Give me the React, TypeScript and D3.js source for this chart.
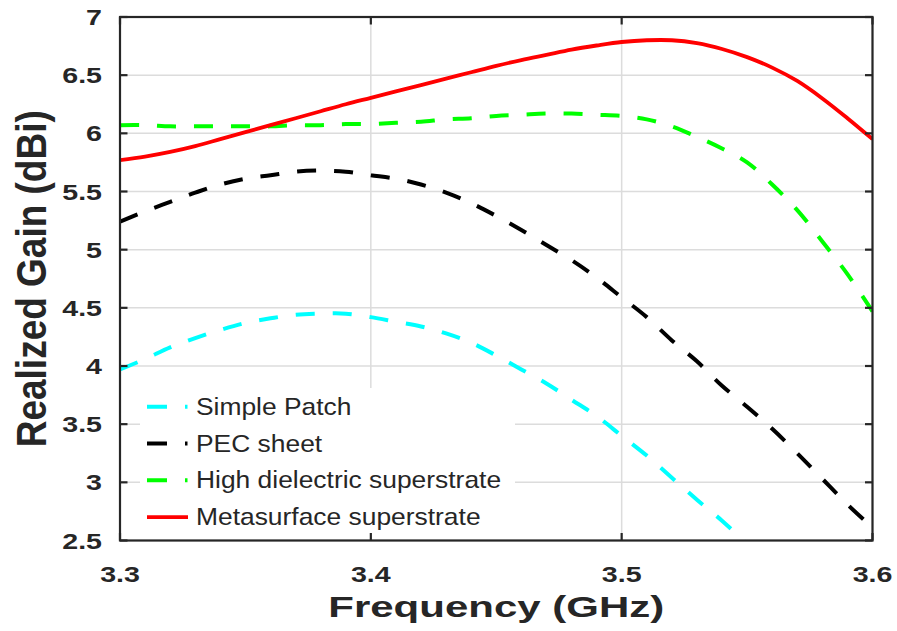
import React from 'react';
import * as d3 from 'd3';

const frequency = [3.30, 3.31, 3.32, 3.33, 3.34, 3.35, 3.36, 3.37, 3.38, 3.39, 3.40, 3.41, 3.42, 3.43, 3.44, 3.45, 3.46, 3.47, 3.48, 3.49, 3.50, 3.51, 3.52, 3.53, 3.54, 3.55, 3.56, 3.57, 3.58, 3.59, 3.60];

const simplePatch = [3.97, 4.06, 4.16, 4.24, 4.31, 4.37, 4.41, 4.44, 4.45, 4.45, 4.42, 4.38, 4.34, 4.28, 4.20, 4.09, 3.97, 3.85, 3.71, 3.57, 3.40, 3.23, 3.04, 2.85, 2.67, 2.47];

const pecSheet = [5.24, 5.33, 5.41, 5.49, 5.56, 5.61, 5.64, 5.67, 5.68, 5.67, 5.64, 5.61, 5.56, 5.49, 5.40, 5.29, 5.17, 5.04, 4.91, 4.76, 4.59, 4.42, 4.22, 4.04, 3.83, 3.65, 3.46, 3.25, 3.03, 2.81, 2.61];

const highDielectric = [6.07, 6.07, 6.06, 6.06, 6.06, 6.06, 6.06, 6.07, 6.07, 6.08, 6.08, 6.09, 6.10, 6.12, 6.13, 6.15, 6.16, 6.17, 6.17, 6.16, 6.15, 6.12, 6.06, 5.97, 5.87, 5.75, 5.56, 5.34, 5.07, 4.79, 4.47];

const metasurface = [5.77, 5.80, 5.84, 5.89, 5.95, 6.01, 6.07, 6.13, 6.19, 6.25, 6.305, 6.36, 6.415, 6.47, 6.525, 6.58, 6.63, 6.675, 6.72, 6.755, 6.785, 6.80, 6.80, 6.775, 6.725, 6.655, 6.565, 6.45, 6.30, 6.13, 5.95];

const xTickValues = [3.3, 3.4, 3.5, 3.6];
const xTickLabels = ['3.3', '3.4', '3.5', '3.6'];
const yTickValues = [2.5, 3, 3.5, 4, 4.5, 5, 5.5, 6, 6.5, 7];
const yTickLabels = ['2.5', '3', '3.5', '4', '4.5', '5', '5.5', '6', '6.5', '7'];

const seriesNames = ['Simple Patch', 'PEC sheet', 'High dielectric superstrate', 'Metasurface superstrate'];
const seriesColors = ['#00ffff', '#000000', '#00ff00', '#ff0000'];
const seriesDashed = [true, true, true, false];

const FONT = '"Liberation Sans", Arial, Helvetica, sans-serif';
const TEXT = '#262626';

export default function App() {
  const left = 120, right = 872.5, top = 17, bottom = 540.5;
  const x = d3.scaleLinear().domain([3.3, 3.6]).range([left, right]);
  const y = d3.scaleLinear().domain([2.5, 7]).range([bottom, top]);
  const line = d3
    .line<[number, number]>()
    .x((d) => x(d[0]))
    .y((d) => y(d[1]))
    .curve(d3.curveCatmullRom);

  const seriesValues = [simplePatch, pecSheet, highDielectric, metasurface];
  const paths = seriesValues.map((vals) =>
    line(vals.map((v, i) => [frequency[i], v] as [number, number])) || ''
  );

  const legendX = 140, legendY = 388, legendW = 375, legendH = 150;
  const legendRow0 = 406.7, legendStep = 36.8;

  return (
    <svg width={897} height={631} style={{ position: 'absolute', left: 0, top: 0, background: '#fff' }}>
      <defs>
        <clipPath id="plotClip">
          <rect x={left} y={top} width={right - left} height={bottom - top} />
        </clipPath>
      </defs>
      <rect x={0} y={0} width={897} height={631} fill="#fff" />
      <g stroke="#dcdcdc" strokeWidth={1.5}>
        {yTickValues.map((v, i) => (
          <line key={'gy' + i} x1={left} x2={right} y1={y(v)} y2={y(v)} />
        ))}
        {xTickValues.map((v, i) => (
          <line key={'gx' + i} x1={x(v)} x2={x(v)} y1={top} y2={bottom} />
        ))}
      </g>
      <g clipPath="url(#plotClip)" fill="none">
        {paths.map((p, i) => (
          <path
            key={'s' + i}
            d={p}
            stroke={seriesColors[i]}
            strokeWidth={i === 3 ? 3.8 : 4}
            strokeDasharray={seriesDashed[i] ? '19,18' : undefined}
          />
        ))}
      </g>
      <rect x={legendX} y={legendY} width={legendW} height={legendH} fill="#fff" />
      {seriesNames.map((name, i) => {
        const cy = legendRow0 + i * legendStep;
        return (
          <g key={'lg' + i}>
            <line
              x1={147}
              x2={seriesDashed[i] ? 187.5 : 188}
              y1={cy}
              y2={cy}
              stroke={seriesColors[i]}
              strokeWidth={i === 3 ? 3.8 : 4}
              strokeDasharray={seriesDashed[i] ? '20,18' : undefined}
            />
            <text
              transform={`translate(196, ${cy + 8}) scale(1.1, 1)`}
              fontFamily={FONT}
              fontSize={24}
              fill={TEXT}
            >
              {name}
            </text>
          </g>
        );
      })}
      <g stroke={TEXT} strokeWidth={2.2} fill="none">
        <rect x={left} y={top} width={right - left} height={bottom - top} />
        {xTickValues.map((v, i) => (
          <g key={'xt' + i}>
            <line x1={x(v)} x2={x(v)} y1={bottom} y2={bottom - 7.5} />
            <line x1={x(v)} x2={x(v)} y1={top} y2={top + 7.5} />
          </g>
        ))}
        {yTickValues.map((v, i) => (
          <g key={'yt' + i}>
            <line x1={left} x2={left + 7.5} y1={y(v)} y2={y(v)} />
            <line x1={right} x2={right - 7.5} y1={y(v)} y2={y(v)} />
          </g>
        ))}
      </g>
      {xTickValues.map((v, i) => (
        <text
          key={'xl' + i}
          transform={`translate(${x(v)}, 582) scale(1.3, 1)`}
          textAnchor="middle"
          fontFamily={FONT}
          fontWeight="bold"
          fontSize={22}
          fill={TEXT}
        >
          {xTickLabels[i]}
        </text>
      ))}
      {yTickValues.map((v, i) => (
        <text
          key={'yl' + i}
          transform={`translate(102, ${y(v) + 8}) scale(1.3, 1)`}
          textAnchor="end"
          fontFamily={FONT}
          fontWeight="bold"
          fontSize={22}
          fill={TEXT}
        >
          {yTickLabels[i]}
        </text>
      ))}
      <text
        transform={`translate(${(left + right) / 2}, 617) scale(1.4, 1)`}
        textAnchor="middle"
        fontFamily={FONT}
        fontWeight="bold"
        fontSize={30}
        fill={TEXT}
      >
        Frequency (GHz)
      </text>
      <text
        transform={`translate(45.7, ${(top + bottom) / 2}) scale(1.17, 1) rotate(-90)`}
        textAnchor="middle"
        fontFamily={FONT}
        fontWeight="bold"
        fontSize={37}
        fill={TEXT}
      >
        Realized Gain (dBi)
      </text>
    </svg>
  );
}
